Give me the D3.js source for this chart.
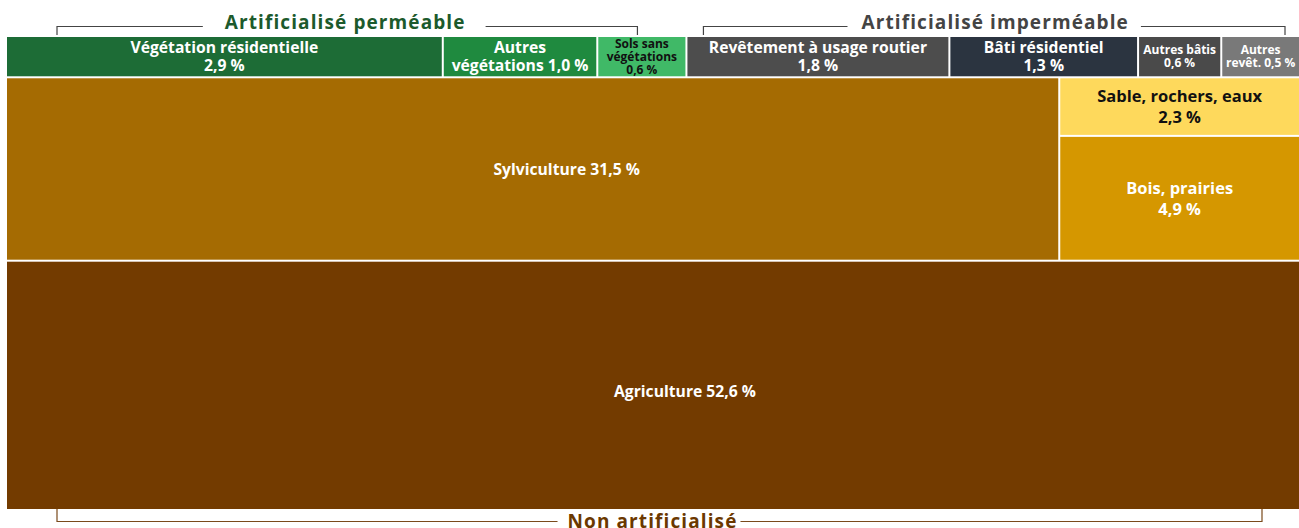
<!DOCTYPE html>
<html>
<head>
<meta charset="utf-8">
<script src="https://cdn.jsdelivr.net/npm/d3@7"></script>
<style>
  body { margin: 0; background: #fff; }
  svg text { font-family: "Open Sans", "Noto Sans", sans-serif; font-weight: 700; }
</style>
</head>
<body>
<div id="chart"></div>
<script>
const width = 1299;
const height = 528;
const MARGIN_LEFT = 7;
const MARGIN_TOP = 37;
const MARGIN_DOWN = 19;

// Artificialisé (top strip), in display order
const artifNames = ["Végétation résidentielle", "Autres végétations", "Sols sans végétations",
                    "Revêtement à usage routier", "Bâti résidentiel", "Autres bâtis", "Autres revêtements"];
const artifValues = [2.94, 1.04, 0.60, 1.77, 1.27, 0.56, 0.53];
const artifGroup = ["perm", "perm", "perm", "imperm", "imperm", "imperm", "imperm"];
const artifLabels = [
    ["Végétation résidentielle", "2,9 %"],
    ["Autres", "végétations 1,0 %"],
    ["Sols sans", "végétations", "0,6 %"],
    ["Revêtement à usage routier", "1,8 %"],
    ["Bâti résidentiel", "1,3 %"],
    ["Autres bâtis", "0,6 %"],
    ["Autres", "revêt. 0,5 %"]
];

// Non artificialisé
const forestName = "Sylviculture";
const forestValue = 31.5;
const sideNames = ["Sable, rochers, eaux", "Bois, prairies"];
const sideValues = [2.3, 4.9];
const sideLabels = [["Sable, rochers, eaux", "2,3 %"], ["Bois, prairies", "4,9 %"]];
const agriName = "Agriculture";
const agriValue = 52.6;

const groupTitles = {perm: "Artificialisé perméable", imperm: "Artificialisé imperméable", non: "Non artificialisé"};

const colors = {
    "Végétation résidentielle": "#1d6c36",
    "Autres végétations": "#1f8a3f",
    "Sols sans végétations": "#40b967",
    "Revêtement à usage routier": "#4d4d4d",
    "Bâti résidentiel": "#2b3440",
    "Autres bâtis": "#4a4a4a",
    "Autres revêtements": "#797979",
    "Sylviculture": "#a56b02",
    "Sable, rochers, eaux": "#fed95c",
    "Bois, prairies": "#d59700",
    "Agriculture": "#733b00"
};
const darkText = new Set(["Sols sans végétations", "Sable, rochers, eaux"]);

// build the hierarchy: rows stacked, cells side by side
const tree = {
    name: "root",
    children: [
        {name: "artif", children: artifNames.map((n, i) => ({name: n, value: artifValues[i], group: artifGroup[i], label: artifLabels[i]}))},
        {name: "middle", children: [
            {name: forestName, value: forestValue, group: "non", label: [forestName + " 31,5 %"], dx: 34},
            {name: "side", children: sideNames.map((n, i) => ({name: n, value: sideValues[i], group: "non", label: sideLabels[i]}))}
        ]},
        {name: agriName, value: agriValue, group: "non", label: [agriName + " 52,6 %"], dx: 32, dy: 6}
    ]
};

const root = d3.hierarchy(tree).sum(d => d.value || 0);

// even depth: stack vertically, odd depth: side by side
function tileRows(node, x0, y0, x1, y1) {
    if (node.depth % 2 === 0) d3.treemapSlice(node, x0, y0, x1, y1);
    else d3.treemapDice(node, x0, y0, x1, y1);
}

d3.treemap()
    .tile(tileRows)
    .size([width - MARGIN_LEFT, height - MARGIN_TOP - MARGIN_DOWN])
    .paddingInner(2)(root);

const svg = d3.select("#chart")
    .append("svg")
    .attr("width", width)
    .attr("height", height);

const g = svg.append("g")
    .attr("transform", `translate(${MARGIN_LEFT}, ${MARGIN_TOP})`);

const leaves = root.leaves();

const cells = g.selectAll("g.cell")
    .data(leaves)
    .join("g")
    .attr("class", "cell")
    .attr("transform", d => `translate(${d.x0}, ${d.y0})`);

cells.append("rect")
    .attr("width", d => d.x1 - d.x0)
    .attr("height", d => d.y1 - d.y0)
    .attr("fill", d => colors[d.data.name]);

function fontSize(d) {
    const w = d.x1 - d.x0;
    if (w < 100) return 12;
    if (d.data.group === "non" && d.parent.data.name === "side") return 16.5;
    return 15.7;
}
function lineStep(d) {
    if (fontSize(d) <= 12) return 13;
    return d.data.group === "non" ? 21 : 18;
}

cells.append("text")
    .attr("text-anchor", "middle")
    .attr("fill", d => darkText.has(d.data.name) ? "#111" : "#fff")
    .attr("font-size", d => fontSize(d) + "px")
    .each(function(d) {
        const lines = d.data.label;
        const step = lineStep(d);
        const cx = (d.x1 - d.x0) / 2 + (d.data.dx || 0);
        const cy = (d.y1 - d.y0) / 2 + (d.data.dy || 0);
        const first = cy - (lines.length - 1) * step / 2 + fontSize(d) * 0.36;
        d3.select(this).selectAll("tspan")
            .data(lines)
            .join("tspan")
            .attr("x", cx)
            .attr("y", (l, i) => first + i * step)
            .text(l => l);
    });

// brackets with group titles
function groupExtent(key) {
    const nodes = leaves.filter(d => d.data.group === key);
    return {
        x0: MARGIN_LEFT + d3.min(nodes, d => d.x0),
        x1: MARGIN_LEFT + d3.max(nodes, d => d.x1),
        y0: MARGIN_TOP + d3.min(nodes, d => d.y0),
        y1: MARGIN_TOP + d3.max(nodes, d => d.y1)
    };
}

const brackets = [
    {key: "perm", inL: 50, inR: 48, top: true, color: "#1c5a2c", line: "#444", dx: -2, gapL: 22, gapR: 20},
    {key: "imperm", inL: 16, inR: 14, top: true, color: "#444444", line: "#444", dx: 1, gapL: 14, gapR: 12},
    {key: "non", inL: 50, inR: 37, top: false, color: "#6b3800", line: "#7a4a1c", dx: -7, gapL: 10, gapR: 3}
];

brackets.forEach(b => {
    const e = groupExtent(b.key);
    const bx0 = e.x0 + b.inL;
    const bx1 = e.x1 - b.inR;
    const edge = b.top ? e.y0 - 2 : e.y1;
    const ly = b.top ? 26.5 : 521.5;
    const mid = (bx0 + bx1) / 2 + b.dx;

    const title = svg.append("text")
        .attr("x", mid)
        .attr("y", b.top ? 29 : 528)
        .attr("text-anchor", "middle")
        .attr("fill", b.color)
        .attr("font-size", "19px")
        .attr("letter-spacing", "1.1px")
        .text(groupTitles[b.key]);

    const tw = title.node().getComputedTextLength();

    const path = `M${bx0},${edge} V${ly} H${mid - tw / 2 - b.gapL} M${mid + tw / 2 + b.gapR},${ly} H${bx1} V${edge}`;
    svg.append("path")
        .attr("d", path)
        .attr("fill", "none")
        .attr("stroke", b.line)
        .attr("stroke-width", 1.2);
});
</script>
</body>
</html>
